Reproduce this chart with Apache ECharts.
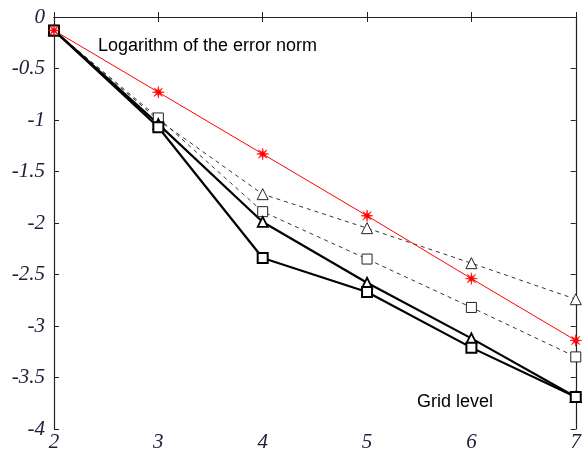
<!DOCTYPE html>
<html><head><meta charset="utf-8">
<script src="https://cdn.jsdelivr.net/npm/echarts@6/dist/echarts.min.js"></script>
<style>html,body{margin:0;padding:0;background:#fff}#c{width:584px;height:456px}</style>
</head><body><div id="c"></div>
<script>
const gridLevels = [2, 3, 4, 5, 6, 7];
const redStar = [-0.13, -0.73, -1.33, -1.93, -2.54, -3.14];
const dashedTriangle = [-0.13, -1.00, -1.72, -2.05, -2.39, -2.74];
const dashedSquare = [-0.13, -0.98, -1.89, -2.35, -2.82, -3.30];
const solidTriangle = [-0.13, -1.04, -1.99, -2.58, -3.12, -3.69];
const solidSquare = [-0.13, -1.07, -2.34, -2.67, -3.21, -3.69];
const xTicks = [2, 3, 4, 5, 6, 7];
const yTicks = [0, -0.5, -1, -1.5, -2, -2.5, -3, -3.5, -4];

const pair = v => gridLevels.map((x, i) => [x, v[i]]);
const asterisk = 'path://M0,-10 L1.2,-2.9 L7.1,-7.1 L2.9,-1.2 L10,0 L2.9,1.2 L7.1,7.1 L1.2,2.9 L0,10 L-1.2,2.9 L-7.1,7.1 L-2.9,1.2 L-10,0 L-2.9,-1.2 L-7.1,-7.1 L-1.2,-2.9 Z';
const labelFont = {fontFamily: 'Liberation Serif', fontStyle: 'italic', fontSize: 21, color: '#20203a'};

const chart = echarts.init(document.getElementById('c'));
chart.setOption({
  animation: false,
  grid: {left: 54, right: 8, top: 17, bottom: 27, show: false},
  xAxis: [{
    type: 'value', min: 2, max: 7, interval: 1, position: 'bottom',
    axisLine: {show: true, lineStyle: {color: '#222', width: 1.2}},
    axisTick: {inside: true, length: 5, lineStyle: {color: '#222'}},
    splitLine: {show: false},
    axisLabel: Object.assign({margin: 3, formatter: v => xTicks.includes(v) ? String(v) : ''}, labelFont)
  }, {
    type: 'value', min: 2, max: 7, interval: 1, position: 'top',
    axisLine: {show: true, lineStyle: {color: '#222', width: 1.2}},
    axisTick: {inside: true, length: 5, lineStyle: {color: '#222'}},
    splitLine: {show: false}, axisLabel: {show: false}
  }],
  yAxis: [{
    type: 'value', min: -4, max: 0, interval: 0.5, position: 'left',
    axisLine: {show: true, lineStyle: {color: '#222', width: 1.2}},
    axisTick: {inside: true, length: 5, lineStyle: {color: '#222'}},
    splitLine: {show: false},
    axisLabel: Object.assign({margin: 9, formatter: v => yTicks.includes(v) ? String(v) : ''}, labelFont)
  }, {
    type: 'value', min: -4, max: 0, interval: 0.5, position: 'right',
    axisLine: {show: true, lineStyle: {color: '#222', width: 1.2}},
    axisTick: {inside: true, length: 5, lineStyle: {color: '#222'}},
    splitLine: {show: false}, axisLabel: {show: false}
  }],
  series: [
    {type: 'line', data: pair(dashedTriangle), symbol: 'triangle', symbolSize: 11,
     lineStyle: {color: '#333', width: 1, type: [4, 4]},
     itemStyle: {color: '#fff', borderColor: '#222', borderWidth: 1}},
    {type: 'line', data: pair(dashedSquare), symbol: 'rect', symbolSize: 10,
     lineStyle: {color: '#333', width: 1, type: [4, 4]},
     itemStyle: {color: '#fff', borderColor: '#222', borderWidth: 1}},
    {type: 'line', data: pair(solidTriangle), symbol: 'triangle', symbolSize: 10,
     lineStyle: {color: '#000', width: 2.2},
     itemStyle: {color: '#fff', borderColor: '#000', borderWidth: 1.8}},
    {type: 'line', data: pair(solidSquare), symbol: 'rect', symbolSize: 10,
     lineStyle: {color: '#000', width: 2.2},
     itemStyle: {color: '#fff', borderColor: '#000', borderWidth: 2}},
    {type: 'line', data: pair(redStar), symbol: asterisk, symbolSize: 12,
     lineStyle: {color: '#ff0000', width: 1},
     itemStyle: {color: '#ff0000', borderColor: '#ff0000', borderWidth: 0.5}}
  ],
  graphic: [
    {type: 'text', left: 98, top: 37, style: {text: 'Logarithm of the error norm', font: '18px "Liberation Sans", Arial, sans-serif', fill: '#000'}},
    {type: 'text', left: 417, top: 393, style: {text: 'Grid level', font: '18px "Liberation Sans", Arial, sans-serif', fill: '#000'}}
  ]
});
</script></body></html>
